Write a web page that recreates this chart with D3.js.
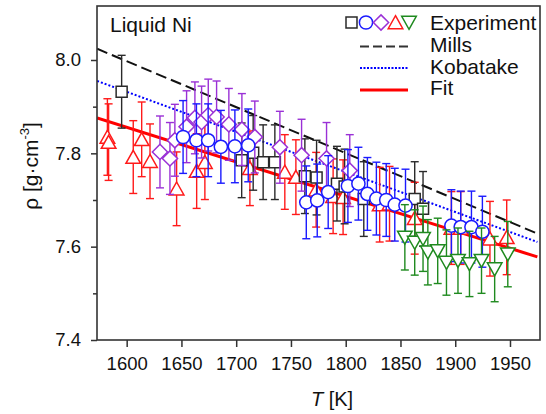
<!DOCTYPE html>
<html><head><meta charset="utf-8">
<script src="https://cdnjs.cloudflare.com/ajax/libs/d3/7.8.5/d3.min.js"></script>
<style>
html,body{margin:0;padding:0;background:#fff;}
svg{display:block;font-family:"Liberation Sans",Arial,sans-serif;}
</style></head>
<body><svg id="c" width="546" height="414"></svg>
<script>
// ---- data ----
const xTicks = [1600,1650,1700,1750,1800,1850,1900,1950];
const yTicks = [7.4,7.6,7.8,8.0];
const yMinorTicks = [7.5,7.7,7.9];

// black squares
const sqT   = [1595.4,1705,1715.5,1724.6,1735.3,1762.7,1773.4,1792,1799,1816.5,1863,1870.6];
const sqRho = [7.932,7.785,7.801,7.781,7.781,7.751,7.748,7.735,7.729,7.702,7.702,7.681];
const sqErr = [0.078,0.08,0.08,0.08,0.08,0.08,0.08,0.08,0.08,0.08,0.08,0.08];
// blue circles
const ciT   = [1651.5,1663.7,1674.4,1686,1698.8,1711,1764,1774,1784,1802,1811.6,1819.8,1828,1837,1844.8,1854.6,1896.5,1905,1914.8,1924.8];
const ciRho = [7.835,7.828,7.828,7.814,7.815,7.817,7.695,7.699,7.717,7.730,7.735,7.713,7.703,7.700,7.690,7.688,7.645,7.642,7.642,7.632];
const ciErr = [0.078,0.078,0.078,0.078,0.078,0.078,0.078,0.078,0.078,0.078,0.078,0.078,0.078,0.078,0.078,0.078,0.077,0.077,0.077,0.076];
// purple diamonds
const diT   = [1630.4,1639.5,1644,1654.7,1662.3,1668.4,1674.5,1682.1,1693.3,1705.2,1717,1739.9,1759.7,1782.5,1803.7];
const diRho = [7.803,7.789,7.828,7.857,7.876,7.867,7.882,7.878,7.862,7.851,7.835,7.813,7.796,7.789,7.763];
const diErr = [0.077,0.077,0.077,0.077,0.077,0.077,0.077,0.077,0.077,0.077,0.077,0.077,0.077,0.077,0.077];
// red up-triangles
const trT   = [1582.4,1583.5,1606,1613.7,1621.3,1645.6,1663.9,1671.4,1712.5,1744.4,1754.5,1773,1788.5,1797.6,1831,1840,1863,1896.5,1905,1931.7,1947];
const trRho = [7.835,7.824,7.792,7.830,7.783,7.724,7.762,7.781,7.768,7.760,7.749,7.722,7.708,7.706,7.690,7.692,7.661,7.640,7.640,7.617,7.620];
const trErr = [0.082,0.082,0.078,0.08,0.08,0.079,0.08,0.08,0.08,0.08,0.08,0.08,0.08,0.08,0.08,0.08,0.077,0.078,0.078,0.08,0.08];
// green down-triangles
const tdT   = [1854,1863,1870.6,1875,1884,1892,1902.5,1913,1924,1936,1948];
const tdRho = [7.620,7.609,7.617,7.588,7.591,7.566,7.570,7.563,7.570,7.552,7.584];
const tdErr = [0.07,0.07,0.07,0.07,0.07,0.07,0.07,0.07,0.07,0.07,0.07];

// reference lines (end points)
const millsT = [1573,1975], millsRho = [8.024,7.628];
const kobaT  = [1573,1975], kobaRho  = [7.955,7.610];
const fitT   = [1573,1975], fitRho   = [7.876,7.578];

// ---- layout ----
const L=97, R=540, T=6, B=340;
const svg = d3.select("#c");
const x = d3.scaleLinear().domain([1572.9,1977.4]).range([L,R]);
const y = d3.scaleLinear().domain([7.4,8.1157]).range([B,T]);
const axisCol = "#333";

// axes
svg.append("g").attr("transform",`translate(0,${B})`)
  .call(d3.axisBottom(x).tickValues(xTicks).tickSize(7).tickPadding(10).tickFormat(d3.format("d")));
svg.append("g").attr("transform",`translate(${L},0)`)
  .call(d3.axisLeft(y).tickValues(yTicks).tickSize(6).tickPadding(10).tickFormat(d3.format(".1f")));
svg.append("g").attr("transform",`translate(${L},0)`)
  .call(d3.axisLeft(y).tickValues(yMinorTicks).tickSize(4).tickFormat(""));
svg.selectAll(".tick line").attr("stroke",axisCol).attr("stroke-width",1.5);
svg.selectAll(".domain").remove();
svg.selectAll(".tick text").attr("font-size",18.5).attr("fill","#111")
  .attr("font-family","'Liberation Sans',Arial,sans-serif");

// lines
const lineGen = d3.line().x(d=>x(d[0])).y(d=>y(d[1]));
svg.append("defs").append("clipPath").attr("id","cp")
  .append("rect").attr("x",L).attr("y",T).attr("width",R-L).attr("height",B-T);
const plot = svg.append("g").attr("clip-path","url(#cp)");
plot.append("path").datum(millsT.map((t,i)=>[t,millsRho[i]])).attr("d",lineGen)
  .attr("fill","none").attr("stroke","#111").attr("stroke-width",2).attr("stroke-dasharray","11,5");
plot.append("path").datum(kobaT.map((t,i)=>[t,kobaRho[i]])).attr("d",lineGen)
  .attr("fill","none").attr("stroke","#0000ff").attr("stroke-width",2).attr("stroke-dasharray","2,2");
plot.append("path").datum(fitT.map((t,i)=>[t,fitRho[i]])).attr("d",lineGen)
  .attr("fill","none").attr("stroke","#ff0000").attr("stroke-width",3);

// symbol paths (centered)
function shape(type){
  if(type==="sq") return "M-5.5,-5.5H5.5V5.5H-5.5Z";
  if(type==="ci") return "M6.6,0A6.6,6.6 0 1,1 -6.6,0A6.6,6.6 0 1,1 6.6,0Z";
  if(type==="di") return "M0,-7.6L7.6,0L0,7.6L-7.6,0Z";
  if(type==="tu") return "M0,-6.8L7.3,6.2L-7.3,6.2Z";
  if(type==="td") return "M0,6.8L7.3,-6.2L-7.3,-6.2Z";
}
function series(Ts,Rs,Es,type,col){
  const g = plot.append("g");
  const data = Ts.map((t,i)=>({t,r:Rs[i],e:Es[i]}));
  const eb = g.selectAll(".eb").data(data).join("g")
    .attr("stroke",col).attr("stroke-width",1.4).attr("fill","none");
  eb.append("line").attr("x1",d=>x(d.t)).attr("x2",d=>x(d.t)).attr("y1",d=>y(d.r+d.e)).attr("y2",d=>y(d.r-d.e));
  eb.append("line").attr("x1",d=>x(d.t)-4).attr("x2",d=>x(d.t)+4).attr("y1",d=>y(d.r+d.e)).attr("y2",d=>y(d.r+d.e));
  eb.append("line").attr("x1",d=>x(d.t)-4).attr("x2",d=>x(d.t)+4).attr("y1",d=>y(d.r-d.e)).attr("y2",d=>y(d.r-d.e));
  g.selectAll(".m").data(data).join("path").attr("d",shape(type))
    .attr("transform",d=>`translate(${x(d.t)},${y(d.r)})`)
    .attr("fill","#fff").attr("stroke",col).attr("stroke-width",1.5);
}
const cRed="#ff1a1a", cBlk="#2a2a2a", cPur="#9a30d6", cBlu="#1a1aff", cGrn="#1f8a1f";
series(trT,trRho,trErr,"tu",cRed);
series(sqT,sqRho,sqErr,"sq",cBlk);
series(diT,diRho,diErr,"di",cPur);
series(ciT,ciRho,ciErr,"ci",cBlu);
series(tdT,tdRho,tdErr,"td",cGrn);

// frame
svg.append("rect").attr("x",L).attr("y",T).attr("width",R-L).attr("height",B-T)
  .attr("fill","none").attr("stroke",axisCol).attr("stroke-width",1.6);

// texts
svg.append("text").attr("x",110).attr("y",32).attr("font-size",21).attr("fill","#111").text("Liquid Ni");
const lg = svg.append("g");
const legTxt = ["Experiment","Mills","Kobatake","Fit"];
const legY = [30,52,73.5,95];
legTxt.forEach((t,i)=>lg.append("text").attr("x",430).attr("y",legY[i]).attr("font-size",21).attr("fill","#111").text(t));
const legSyms = [["sq",cBlk,351.5],["ci",cBlu,366],["di",cPur,381],["tu",cRed,395.5],["td",cGrn,409]];
legSyms.forEach(s=>lg.append("path").attr("d",shape(s[0])).attr("transform",`translate(${s[2]},22.5)`)
  .attr("fill","#fff").attr("stroke",s[1]).attr("stroke-width",1.5));
lg.append("line").attr("x1",360).attr("x2",408).attr("y1",46.5).attr("y2",46.5).attr("stroke","#333").attr("stroke-width",2).attr("stroke-dasharray","9,4");
lg.append("line").attr("x1",360).attr("x2",408).attr("y1",68).attr("y2",68).attr("stroke","#0000ff").attr("stroke-width",2).attr("stroke-dasharray","2,1.5");
lg.append("line").attr("x1",360).attr("x2",408).attr("y1",90).attr("y2",90).attr("stroke","#ff0000").attr("stroke-width",3);

// axis titles
const xt = svg.append("text").attr("x",332).attr("y",406).attr("text-anchor","middle").attr("font-size",20).attr("fill","#111");
xt.append("tspan").attr("font-style","italic").text("T");
xt.append("tspan").text(" [K]");
const yt = svg.append("text").attr("transform","translate(38,166) rotate(-90)").attr("text-anchor","middle").attr("font-size",21).attr("fill","#111");
yt.append("tspan").text("ρ [g·cm");
yt.append("tspan").attr("font-size",13).attr("dy",-9).text("-3");
yt.append("tspan").attr("dy",9).text("]");
</script></body></html>
